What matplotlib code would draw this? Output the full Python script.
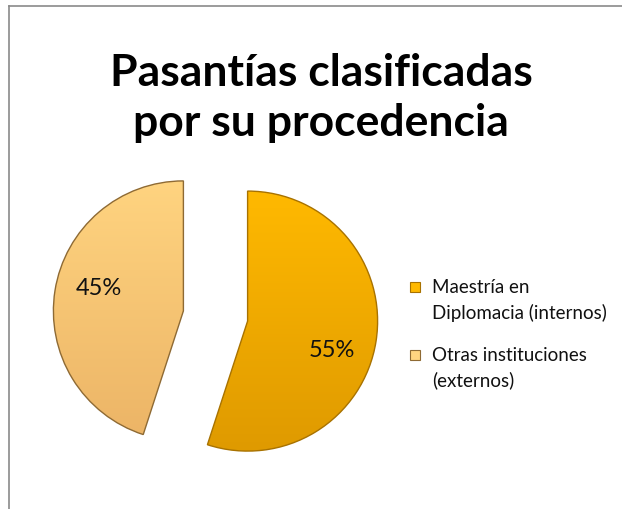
import matplotlib
matplotlib.use("Agg")
import matplotlib.pyplot as plt
import numpy as np
from matplotlib.lines import Line2D
from matplotlib.patches import Rectangle
from matplotlib.colors import to_rgb

categories = ["Maestría en\nDiplomacia (internos)", "Otras instituciones\n(externos)"]
values = [55, 45]
colors_top = ["#FFB900", "#FFD480"]
colors_bottom = ["#DF9A00", "#ECB466"]
edge_colors = ["#A87200", "#8E6A34"]
title = "Pasantías clasificadas\npor su procedencia"

plt.rcParams['font.family'] = ['Lato', 'DejaVu Sans']

fig = plt.figure(figsize=(6.22, 5.09), dpi=100)
W, H = 622, 509
r_px = 130
L = 1.4
size = 2 * L * r_px
cx, cy = 215.5, 316
ax = fig.add_axes([(cx - size / 2) / W, (H - cy - size / 2) / H, size / W, size / H])
wedges, texts = ax.pie(
    values, colors=colors_top, startangle=90, counterclock=False,
    explode=[0.25, 0.25], wedgeprops=dict(linewidth=1.0))

total = sum(values)
start = 90.0
for w, v, ct, cb, ec in zip(wedges, values, colors_top, colors_bottom, edge_colors):
    x0, y0 = w.center
    r = w.r
    n = 256
    t = np.linspace(0, 1, n)[:, None]
    grad = (1 - t) * np.array(to_rgb(ct)) + t * np.array(to_rgb(cb))
    grad = grad[:, None, :]
    im = ax.imshow(grad, extent=[x0 - r, x0 + r, y0 - r, y0 + r], origin='upper',
                   aspect='auto', zorder=1, interpolation='bilinear')
    im.set_clip_path(w)
    w.set_facecolor('none')
    w.set_edgecolor(ec)
    w.set_zorder(2)
    mid = start - 360.0 * v / total / 2
    ang = np.deg2rad(mid - 8)
    ax.text(x0 + 0.68 * r * np.cos(ang), y0 + 0.68 * r * np.sin(ang) - 0.03,
            f"{v}%", ha='center', va='center', fontsize=17, color='#111111', zorder=3)
    start -= 360.0 * v / total

ax.set_xlim(-L, L)
ax.set_ylim(-L, L)
ax.set_aspect('equal')
ax.axis('off')

fig.text(321 / W, 1 - 98 / H, title, ha='center', va='center', fontsize=32,
         fontweight='bold', linespacing=1.28, color='#000000')

# legend drawn manually so markers align with the first line of each entry
leg_y = [287, 355]
for lab, ct, ec, y in zip(categories, colors_top, edge_colors, leg_y):
    fig.add_artist(Rectangle(((410) / W, 1 - (y + 5) / H), 10 / W, 10 / H,
                             transform=fig.transFigure, facecolor=ct,
                             edgecolor=ec, linewidth=0.8))
    fig.text(432 / W, 1 - (y - 8) / H, lab, ha='left', va='top', fontsize=13.5,
             linespacing=1.5, color='#111111')

# chart border
fig.add_artist(Line2D([9 / W, 9 / W], [0, 1 - 6 / H], transform=fig.transFigure,
                      color='#8a8a8a', linewidth=1.2))
fig.add_artist(Line2D([9 / W, 1], [1 - 6 / H, 1 - 6 / H], transform=fig.transFigure,
                      color='#8a8a8a', linewidth=1.2))

fig.savefig("out.png", dpi=100, facecolor='white')
